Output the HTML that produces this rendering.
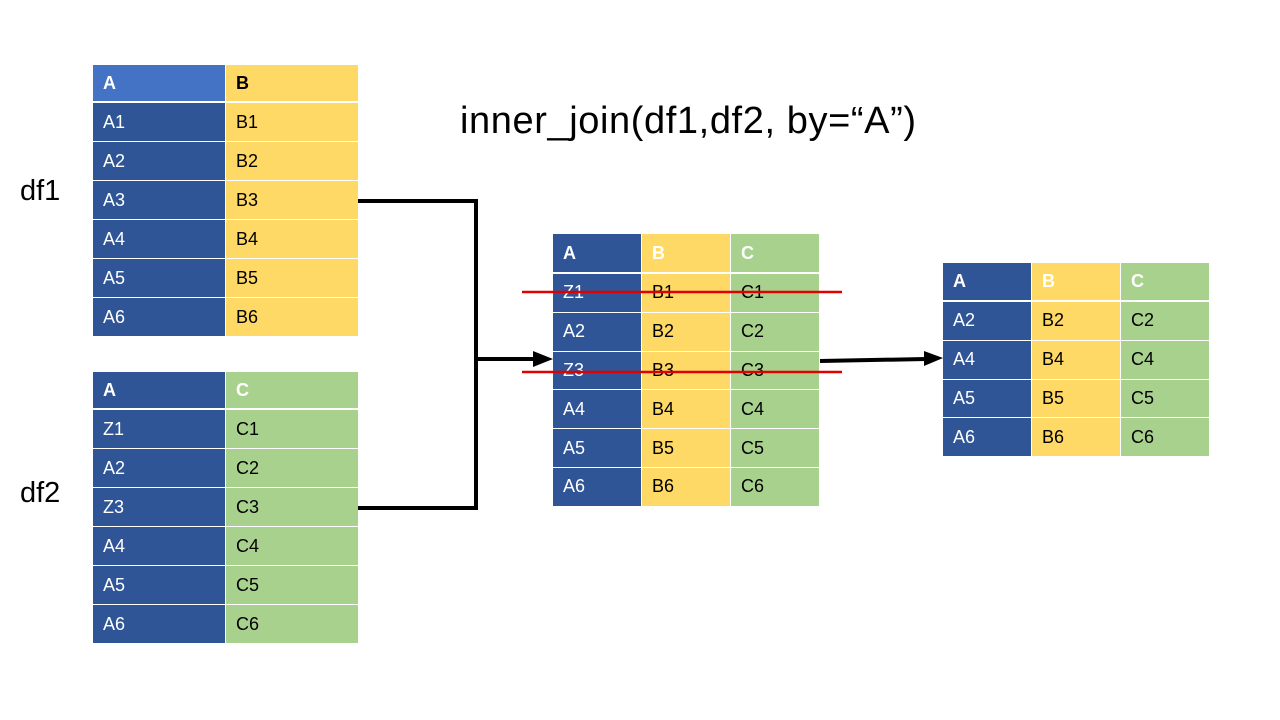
<!DOCTYPE html>
<html><head><meta charset="utf-8"><style>
body{margin:0;width:1280px;height:720px;background:#fff;position:relative;overflow:hidden;font-family:"Liberation Sans",sans-serif}
.c{position:absolute;box-sizing:border-box;font-size:18px;padding-left:10px;display:flex;align-items:center}
.t{position:absolute;white-space:nowrap}
</style></head><body>
<div class="t" style="left:460px;top:100px;font-size:38px;letter-spacing:0.6px">inner_join(df1,df2, by=“A”)</div>
<div class="t" style="left:20px;top:175px;font-size:29px;">df1</div>
<div class="t" style="left:20px;top:477px;font-size:29px;">df2</div>
<svg width="1280" height="720" style="position:absolute;left:0;top:0;z-index:2">
<polyline points="358,201 476,201 476,508 358,508" fill="none" stroke="#000" stroke-width="4"/>
<line x1="476" y1="359" x2="535" y2="359" stroke="#000" stroke-width="4"/>
<polygon points="533,351 553,359 533,367" fill="#000"/>
<line x1="820" y1="361" x2="926" y2="359" stroke="#000" stroke-width="4"/>
<polygon points="924,351 943,358 924,366" fill="#000"/>
<line x1="522" y1="292" x2="842" y2="292" stroke="#e00000" stroke-width="2.5"/>
<line x1="522" y1="372" x2="842" y2="372" stroke="#e00000" stroke-width="2.5"/>
</svg>
<script>
const df1Header=["A","B"];
const df1Rows=[["A1","B1"],["A2","B2"],["A3","B3"],["A4","B4"],["A5","B5"],["A6","B6"]];
const df2Header=["A","C"];
const df2Rows=[["Z1","C1"],["A2","C2"],["Z3","C3"],["A4","C4"],["A5","C5"],["A6","C6"]];
const midHeader=["A","B","C"];
const midRows=[["Z1","B1","C1"],["A2","B2","C2"],["Z3","B3","C3"],["A4","B4","C4"],["A5","B5","C5"],["A6","B6","C6"]];
const resHeader=["A","B","C"];
const resRows=[["A2","B2","C2"],["A4","B4","C4"],["A5","B5","C5"],["A6","B6","C6"]];
const BLUE="#2F5597",YEL="#FFD966",GRN="#A9D18E";
function table(name,x,y,colW,hdrH,rowH,header,rows,colors,hdrColors,hdrText){
  header.forEach((h,j)=>{
    const d=document.createElement('div');d.className='c';
    
    
    d.style.cssText=`left:${x+j*colW}px;top:${y}px;width:${colW-1}px;height:${hdrH}px;background:${hdrColors[j]};color:${hdrText[j]};font-weight:bold`;
    d.textContent=h;document.body.appendChild(d);
  });
  rows.forEach((r,i)=>r.forEach((v,j)=>{
    const d=document.createElement('div');d.className='c';
    
    
    d.style.cssText=`left:${x+j*colW}px;top:${y+hdrH+2+i*rowH}px;width:${colW-1}px;height:${rowH-1}px;background:${colors[j]};color:${j==0?'#fff':'#000'}`;
    d.textContent=v;document.body.appendChild(d);
  }));
}
table('df1',93,65,133,36,39,df1Header,df1Rows,[BLUE,YEL],["#4472C4",YEL],["#fff","#000"]);
table('df2',93,372,133,36,39,df2Header,df2Rows,[BLUE,GRN],[BLUE,GRN],["#fff","#fff"]);
table('joined',553,234,89,38,38.8,midHeader,midRows,[BLUE,YEL,GRN],[BLUE,YEL,GRN],["#fff","#fff","#fff"]);
table('result',943,263,89,37,38.8,resHeader,resRows,[BLUE,YEL,GRN],[BLUE,YEL,GRN],["#fff","#fff","#fff"]);
</script>
</body></html>
